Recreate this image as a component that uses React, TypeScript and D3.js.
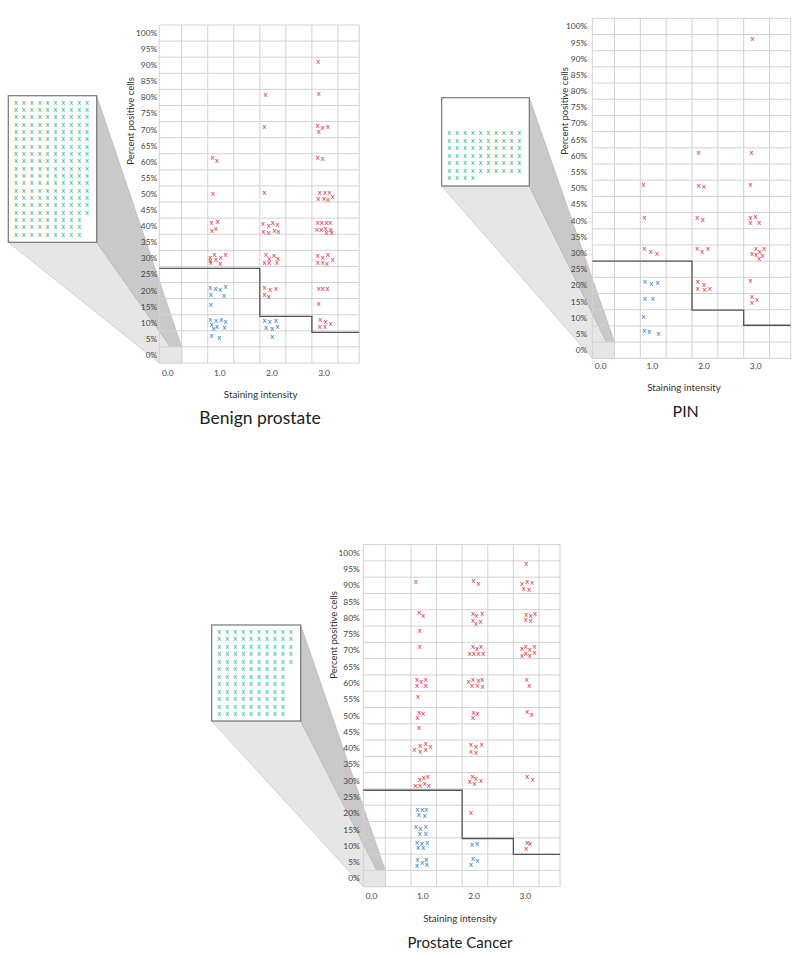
import * as d3 from "d3";

// tick labels
const percentTicks = [0, 5, 10, 15, 20, 25, 30, 35, 40, 45, 50, 55, 60, 65, 70, 75, 80, 85, 90, 95, 100];
const intensityTicks = [0, 1, 2, 3];
const stepBreaks = [1.72, 2.72];

// [staining intensity, percent positive]
const benignRed = [
  [2.84, 91.0], [1.83, 80.9], [2.85, 81.0], [1.81, 70.9], [2.83, 71.2], [2.93, 70.6], [3.03, 71.0], [2.85, 69.3],
  [0.81, 61.1], [0.9, 60.3], [2.83, 61.3], [2.93, 61.0],
  [0.82, 50.2], [1.81, 50.5], [2.87, 50.5], [2.97, 50.5], [3.06, 50.5], [2.84, 48.6], [2.95, 48.6], [3.03, 48.3], [3.12, 49.0],
  [0.79, 40.9], [0.91, 41.3], [0.8, 38.6], [0.88, 39.3],
  [1.78, 40.6], [1.89, 40.1], [1.97, 40.9], [2.06, 40.4], [1.79, 38.3], [1.89, 38.0], [2.0, 38.5], [2.08, 38.3],
  [2.83, 40.9], [2.91, 40.9], [3.0, 40.9], [3.07, 40.9], [2.82, 39.0], [2.9, 39.0], [2.98, 39.2], [3.08, 39.0], [3.0, 37.8], [3.1, 37.8],
  [0.77, 30.1], [0.85, 31.0], [0.88, 29.5], [0.97, 30.1], [1.06, 31.0], [0.78, 28.5], [0.96, 28.2], [0.77, 29.2],
  [1.84, 31.0], [1.9, 30.0], [1.99, 30.7], [2.07, 30.0], [1.81, 28.5], [1.9, 28.5], [2.05, 28.5],
  [2.83, 30.7], [2.93, 30.2], [3.03, 31.0], [3.12, 29.5], [2.83, 28.7], [2.93, 28.5], [3.01, 28.2],
  [1.81, 21.0], [1.92, 20.2], [2.03, 20.5], [1.81, 18.6], [1.89, 18.1],
  [2.85, 20.4], [2.93, 20.4], [3.02, 20.4], [2.85, 16.0],
  [2.88, 10.9], [2.98, 10.3], [3.08, 9.6], [2.87, 8.8], [2.97, 8.6],
];
const benignBlue = [
  [0.77, 21.0], [0.87, 20.4], [0.96, 20.2], [1.06, 21.2], [0.78, 18.8], [1.03, 18.3], [0.78, 15.5],
  [0.77, 10.9], [0.88, 10.6], [0.98, 10.9], [1.06, 10.3], [0.79, 9.3], [0.9, 8.8], [0.83, 8.0], [1.04, 8.3],
  [0.79, 5.9], [0.94, 5.3],
  [1.81, 10.6], [1.91, 10.3], [2.03, 10.6], [1.84, 8.3], [1.96, 8.1], [2.06, 8.8], [1.96, 5.7],
];

const pinRed = [
  [2.89, 96.3], [1.85, 61.1], [2.87, 61.1],
  [0.78, 51.0], [1.85, 50.7], [1.95, 50.5], [2.85, 51.0],
  [0.8, 40.9], [1.82, 40.9], [1.93, 40.4], [2.85, 41.0], [2.95, 41.2], [2.85, 39.2], [3.02, 39.5],
  [0.8, 31.2], [0.92, 30.4], [1.04, 29.7], [1.82, 31.4], [1.92, 30.4], [2.03, 31.2],
  [2.88, 29.9], [2.96, 31.2], [3.03, 30.4], [3.12, 31.2], [2.96, 29.4], [3.09, 29.1], [3.02, 28.1],
  [1.83, 21.1], [1.95, 20.3], [1.83, 18.9], [1.96, 18.6], [2.07, 19.1],
  [2.85, 21.5], [2.88, 16.5], [2.98, 15.7], [2.88, 14.7],
];
const pinBlue = [
  [0.81, 21.1], [0.93, 20.4], [1.05, 20.9], [0.81, 15.9], [0.96, 15.8], [0.78, 10.3], [0.8, 6.0], [0.89, 5.6], [1.07, 5.2],
];

const cancerRed = [
  [2.97, 96.5], [0.82, 91.1], [1.94, 91.4], [2.04, 90.4], [2.89, 90.6], [2.99, 91.2], [3.09, 90.7], [2.92, 89.0], [3.03, 88.7],
  [0.88, 81.5], [0.96, 80.7], [1.93, 81.2], [2.0, 80.8], [2.11, 81.2], [1.93, 79.0], [1.99, 78.2], [2.08, 78.9],
  [2.97, 81.1], [3.06, 80.7], [3.14, 81.2], [2.96, 79.3], [3.06, 79.0],
  [0.89, 76.1], [0.89, 71.0],
  [1.93, 71.0], [2.01, 70.5], [2.09, 71.0], [1.87, 69.0], [1.95, 69.0], [2.04, 69.0], [2.13, 69.0],
  [2.89, 70.5], [2.96, 71.1], [3.04, 70.3], [3.13, 71.1], [2.89, 68.5], [2.96, 69.1], [3.04, 68.5], [3.13, 69.3],
  [0.84, 61.1], [0.92, 60.4], [1.01, 60.9], [0.84, 59.1], [1.01, 59.2],
  [1.85, 60.5], [1.93, 61.1], [2.04, 60.7], [2.11, 61.1], [1.91, 59.3], [2.02, 59.1], [2.12, 58.8],
  [2.98, 61.0], [3.03, 59.2], [0.86, 55.7],
  [0.88, 51.0], [0.96, 50.5], [0.85, 49.3], [0.88, 46.3], [1.94, 51.0], [2.02, 50.6], [1.93, 49.2], [2.99, 51.1], [3.08, 50.3],
  [0.79, 39.5], [0.9, 40.7], [1.01, 41.4], [1.1, 40.3], [0.9, 38.8], [1.01, 39.5],
  [1.89, 41.0], [1.99, 40.4], [2.1, 40.9], [1.89, 38.9], [1.99, 38.5],
  [0.89, 30.2], [0.97, 30.9], [1.05, 31.1], [0.81, 28.4], [0.9, 28.6], [0.99, 29.0], [1.07, 28.6],
  [1.92, 31.2], [1.99, 30.7], [2.09, 30.1], [1.87, 29.7], [1.96, 29.0],
  [2.99, 31.1], [3.1, 30.3],
  [1.89, 20.3],
  [2.99, 11.1], [3.05, 10.6], [2.97, 9.2],
];
const cancerBlue = [
  [0.85, 21.2], [0.94, 21.0], [1.02, 21.2], [0.87, 19.5], [0.99, 19.2],
  [0.82, 15.8], [0.9, 15.3], [1.01, 15.8], [0.89, 13.7], [1.01, 13.6],
  [0.84, 11.1], [0.93, 10.8], [1.04, 11.1], [0.86, 9.3], [0.96, 9.3],
  [0.85, 5.9], [0.94, 4.9], [1.02, 5.9], [0.84, 3.8], [1.03, 4.2],
  [1.91, 10.5], [2.01, 10.8], [1.93, 6.2], [2.02, 5.6], [1.89, 4.2],
];

// threshold levels per intensity group
const benignSteps = [26.9, 12.0, 7.0];
const pinSteps = [27.5, 12.4, 7.7];
const cancerSteps = [27.1, 12.3, 7.4];

// green x's per row in the zoomed inset (0% / 0.0 cell)
const benignInsetRows = [10, 10, 10, 10, 10, 10, 10, 10, 10, 10, 10, 10, 10, 10, 10, 10, 9, 9, 9];
const pinInsetRows = [10, 10, 10, 10, 10, 10, 4];
const cancerInsetRows = [10, 10, 10, 10, 10, 9, 9, 9, 9, 9, 9, 9];

const FONT = "Lato, 'Open Sans', sans-serif";
const RED = "#e3344b";
const BLUE = "#2f7fc4";
const GREEN = "#27b36f";

const panels = [
  {
    title: "Benign prostate", red: benignRed, blue: benignBlue, steps: benignSteps, inset: benignInsetRows,
    left: 159.3, top: 25, width: 200, bottom: 363, labelGap: 2, xLabelY: 375.5,
    yTitle: [130.7, 121], xTitle: [260.7, 397.5], titlePos: [260, 424], titleSize: 17.5,
    box: { x: 8.3, y: 95.7, w: 88.4, h: 146.6, rowStart: 7, colStep: 7.9, rowStep: 7.33 },
  },
  {
    title: "PIN", red: pinRed, blue: pinBlue, steps: pinSteps, inset: pinInsetRows,
    left: 592.3, top: 18.3, width: 198.4, bottom: 358.3, labelGap: 5, xLabelY: 369,
    yTitle: [565, 111], xTitle: [684, 391], titlePos: [685.7, 417.3], titleSize: 16,
    box: { x: 441.7, y: 97.7, w: 87.6, h: 88.3, rowStart: 35.6, colStep: 7.77, rowStep: 7.5 },
  },
  {
    title: "Prostate Cancer", red: cancerRed, blue: cancerBlue, steps: cancerSteps, inset: cancerInsetRows,
    left: 363.3, top: 544.6, width: 196.7, bottom: 886.7, labelGap: 3.5, xLabelY: 899,
    yTitle: [333.3, 635], xTitle: [460, 922], titlePos: [460, 948.3], titleSize: 15,
    box: { x: 211.7, y: 625, w: 89, h: 96, rowStart: 6.7, colStep: 7.93, rowStep: 7.48 },
  },
];

function Panel({ p }: { p: (typeof panels)[number] }) {
  const x = d3.scaleLinear().domain([-0.21, 3.63]).range([p.left, p.left + p.width]);
  const y = d3.scaleLinear().domain([-2.5, 102.5]).range([p.bottom, p.top]);
  const xGrid = d3.range(0.22, 3.3, 0.5);
  const yGrid = percentTicks.map((t) => t - 2.5).concat([102.5]);
  const [x0, x1] = x.domain();

  const stepLine = d3
    .line<number[]>()
    .x((d) => x(d[0]))
    .y((d) => y(d[1]))
    .curve(d3.curveStepAfter);
  const stepData = [
    [x0, p.steps[0]],
    [stepBreaks[0], p.steps[1]],
    [stepBreaks[1], p.steps[2]],
    [x1, p.steps[2]],
  ];

  // zoomed cell (0.0 intensity, 0%)
  const rx0 = x(x0), rx1 = x(xGrid[0]);
  const ry0 = y(2.5), ry1 = y(-2.5);
  const b = p.box;
  const light = [[b.x, b.y + b.h], [b.x + b.w, b.y + b.h], [rx1, ry1], [rx0, ry1]];
  const dark = [[b.x + b.w, b.y], [b.x + b.w, b.y + b.h], [rx1, ry1], [rx1, ry0]];
  const poly = (pts: number[][]) => "M" + pts.map((q) => q.join(",")).join("L") + "Z";

  const cx = d3.scaleLinear().domain([0, 1]).range([b.x + 7.7, b.x + 7.7 + b.colStep]);
  const cy = d3.scaleLinear().domain([0, 1]).range([b.y + b.rowStart, b.y + b.rowStart + b.rowStep]);

  const mark = (d: number[], i: number, color: string) => (
    <text key={color + i} x={x(d[0])} y={y(d[1]) + 2.2} fill={color} fontSize={8} textAnchor="middle" fontFamily={FONT}>
      x
    </text>
  );

  return (
    <g>
      <path d={poly(light)} fill="#e6e6e6" stroke="#b5b5b5" strokeWidth={0.5} />
      <path d={poly(dark)} fill="#c9c9c9" stroke="#a8a8a8" strokeWidth={0.5} />
      <rect x={rx0} y={ry0} width={rx1 - rx0} height={ry1 - ry0} fill="#e6e6e6" />

      {yGrid.map((g) => (
        <line key={"h" + g} x1={x(x0)} x2={x(x1)} y1={y(g)} y2={y(g)} stroke="#d2d2d2" strokeWidth={1} />
      ))}
      {[x0, ...xGrid, x1].map((g) => (
        <line key={"v" + g} x1={x(g)} x2={x(g)} y1={y(-2.5)} y2={y(102.5)} stroke="#d2d2d2" strokeWidth={1} />
      ))}

      <path d={stepLine(stepData) || ""} fill="none" stroke="#555" strokeWidth={1.3} />

      {percentTicks.map((t) => (
        <text key={"yt" + t} x={p.left - p.labelGap} y={y(t)} dy="0.35em" textAnchor="end" fontSize={8.4} fill="#444" fontFamily={FONT}>
          {t}%
        </text>
      ))}
      {intensityTicks.map((t) => (
        <text key={"xt" + t} x={x(t) - 2.5} y={p.xLabelY} textAnchor="middle" fontSize={8.4} fill="#444" fontFamily={FONT}>
          {d3.format(".1f")(t)}
        </text>
      ))}

      <text
        transform={`translate(${p.yTitle[0]},${p.yTitle[1]}) rotate(-90)`}
        textAnchor="middle"
        dy="0.35em"
        fontSize={9.5}
        fill="#333"
        fontFamily={FONT}
      >
        Percent positive cells
      </text>
      <text x={p.xTitle[0]} y={p.xTitle[1]} textAnchor="middle" fontSize={9.8} fill="#333" fontFamily={FONT}>
        Staining intensity
      </text>
      <text x={p.titlePos[0]} y={p.titlePos[1]} textAnchor="middle" fontSize={p.titleSize} fill="#222" fontFamily={FONT}>
        {p.title}
      </text>

      {p.red.map((d, i) => mark(d, i, RED))}
      {p.blue.map((d, i) => mark(d, i, BLUE))}

      <rect x={b.x} y={b.y} width={b.w} height={b.h} fill="#fff" stroke="#777" strokeWidth={1.2} />
      {p.inset.map((n, r) =>
        d3.range(n).map((c) => (
          <text key={`g${r}-${c}`} x={cx(c)} y={cy(r) + 2} fill={GREEN} fontSize={7.2} textAnchor="middle" fontFamily={FONT}>
            x
          </text>
        ))
      )}
    </g>
  );
}

export default function App() {
  return (
    <svg
      width={800}
      height={955}
      style={{ position: "absolute", left: 0, top: 0, display: "block", background: "#fff" }}
    >
      {panels.map((p) => (
        <Panel key={p.title} p={p} />
      ))}
    </svg>
  );
}
